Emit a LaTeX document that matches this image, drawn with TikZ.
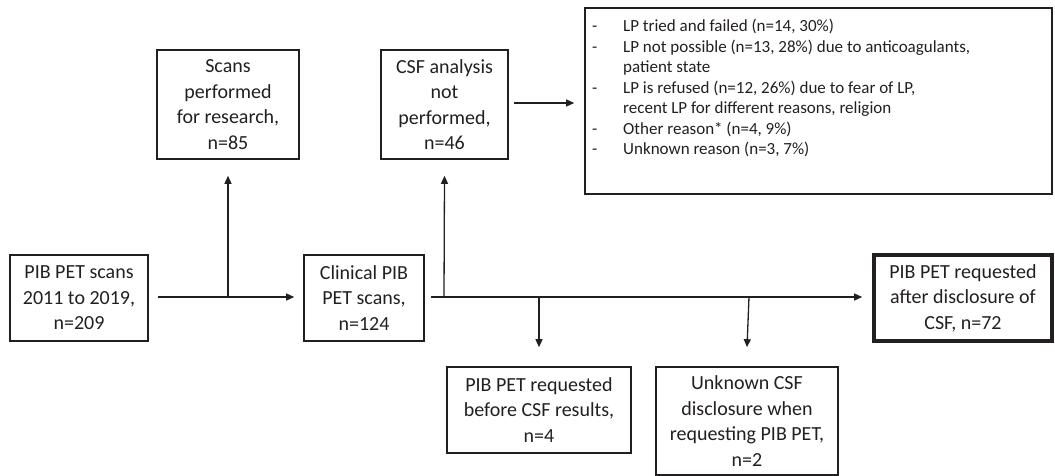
\documentclass[tikz,border=0pt]{standalone}
\usepackage{fontspec}
\setmainfont{Carlito}
\usetikzlibrary{arrows.meta}
\definecolor{ink}{HTML}{231F20}
\begin{document}
\begin{tikzpicture}[x=1pt,y=-1pt,
  box/.style={draw=ink,line width=1.6pt,inner sep=0pt,align=center,text=ink,
    font=\fontsize{20}{25.5}\selectfont},
  thickbox/.style={box,line width=3.6pt},
  conn/.style={draw=ink,line width=1.3pt},
  arr/.style={conn,-{Triangle[length=8pt,width=7pt]}}]
\useasboundingbox (0,0) rectangle (1055,476);
\node[box,minimum width=138pt,minimum height=86pt] (A) at (79,298) {PIB PET scans\\2011 to 2019,\\n=209};
\node[box,minimum width=142pt,minimum height=109pt] (B) at (228,104.5) {Scans\\performed\\for research,\\n=85};
\node[box,minimum width=120pt,minimum height=86pt] (C) at (364,298) {Clinical PIB\\PET scans,\\n=124};
\node[box,minimum width=127pt,minimum height=109pt] (D) at (444.5,104.5) {CSF analysis\\not\\performed,\\n=46};
\node[box,minimum width=467pt,minimum height=186pt] (E) at (818.5,101) {};
\node[anchor=north west,inner sep=0pt,text=ink,align=left,font=\fontsize{17}{20.5}\selectfont] (Et) at (592,17)
 {\begin{tabular}{@{}p{31pt}@{}l@{}}
 - & LP tried and failed (n=14, 30\%)\\
 - & LP not possible (n=13, 28\%) due to anticoagulants,\\
   & patient state\\
 - & LP is refused (n=12, 26\%) due to fear of LP,\\
   & recent LP for different reasons, religion\\
 - & Other reason* (n=4, 9\%)\\
 - & Unknown reason (n=3, 7\%)
 \end{tabular}};
\node[thickbox,minimum width=178pt,minimum height=86pt] (F) at (963,298) {PIB PET requested\\after disclosure of\\CSF, n=72};
\node[box,minimum width=184pt,minimum height=86pt] (G) at (539,410) {PIB PET requested\\before CSF results,\\n=4};
\node[box,minimum width=182pt,minimum height=108pt] (H) at (747,421) {Unknown CSF\\disclosure when\\requesting PIB PET,\\n=2};
% junctions
\coordinate (j1) at (228,297);
\coordinate (j2) at (444,297);
\coordinate (j3) at (539,297);
\coordinate (j4) at (749,297);
\draw[arr] ([xshift=9pt]A.east|-j1) -- ([xshift=-9pt]C.west|-j1);
\draw[arr] (j1) -- ([yshift=-16pt]B.south);
\draw[arr] ([xshift=6pt]C.east|-j2) -- ([xshift=-10pt]F.west|-j2);
\draw[arr] (j2) -- ([yshift=-16pt]D.south);
\draw[arr] (j3) -- ([yshift=19pt]G.north);
\draw[arr] (j4) -- ([yshift=19pt]H.north);
\draw[arr] ([xshift=5pt]D.east|-0,103) -- ([xshift=-10pt]E.west|-0,103);
\end{tikzpicture}
\end{document}
